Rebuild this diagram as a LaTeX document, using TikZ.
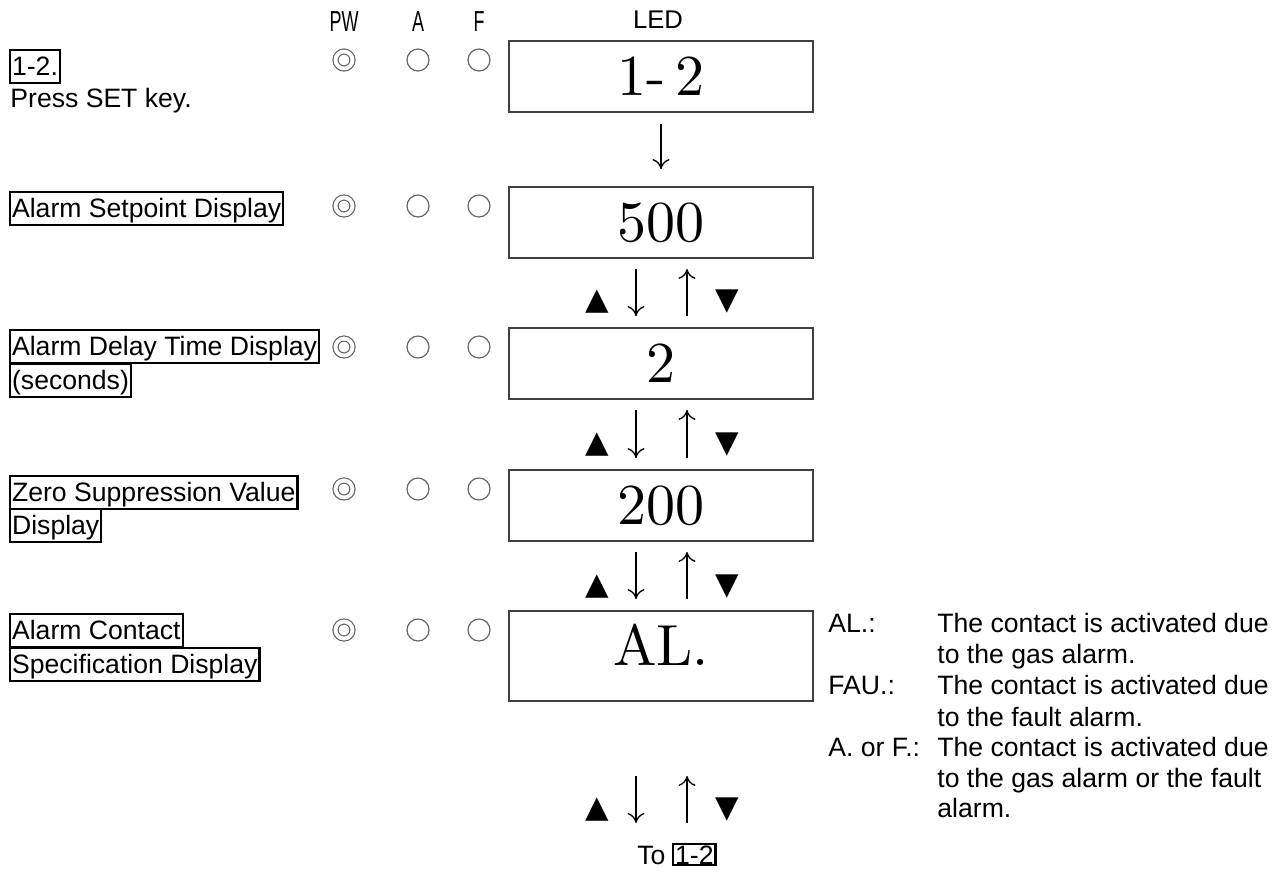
\documentclass[tikz,border=0pt]{standalone}
\usepackage{fontspec}
\setsansfont{Liberation Sans}
\newfontfamily\symfont{DejaVu Sans}
\newfontfamily\ledfont{lmroman10-regular}[Extension=.otf]
\usetikzlibrary{arrows.meta}
\tikzset{
  lbl/.style={draw,line width=1.1pt,anchor=base west,inner xsep=1pt,inner ysep=0pt,text height=12.5pt,text depth=4pt},
  txt/.style={anchor=base west,inner sep=0pt},
  ledbox/.style={draw=black!75,line width=0.9pt,minimum width=152pt,minimum height=35.5pt,inner sep=0pt,font=\ledfont\fontsize{29}{30}\selectfont},
  lamp/.style={circle,draw=black!60,line width=0.6pt,minimum size=11pt,inner sep=0pt},
  pwlamp/.style={circle,draw=black!60,line width=0.6pt,double,double distance=1.9pt,minimum size=8.5pt,inner sep=0pt},
  head/.style={font=\sffamily\fontsize{14.5}{14}\selectfont},
  arr/.style={line width=0.65pt,-{To[length=5pt,width=8.5pt]}},
  tri/.style={font=\symfont\fontsize{15.3}{16}\selectfont,inner sep=0pt},
}
\begin{document}
\begin{tikzpicture}[x=0.5pt,y=-0.5pt,font=\sffamily\fontsize{13.3}{15.4}\selectfont]
  \useasboundingbox (0,0) rectangle (1283,880);
  % heads
  \node[head] (hpw) at (344,22) {\scalebox{0.62}[1]{PW}};
  \node[head] (ha) at (418,22) {\scalebox{0.62}[1]{A}};
  \node[head] (hf) at (479,22) {\scalebox{0.62}[1]{F}};
  \node[font=\sffamily\fontsize{12.8}{13}\selectfont] (hled) at (658,20) {LED};
  % lamps
  \foreach \r/\y in {1/60,2/206,3/347,4/489,5/630} {
    \node[pwlamp] (pw\r) at (344,\y) {};
    \node[lamp] (a\r) at (418,\y) {};
    \node[lamp] (f\r) at (479,\y) {};
  }
  % LED displays
  \node[ledbox] (led1) at (661,76.5) {1-\,2};
  \node[ledbox] (led2) at (661,222.5) {500};
  \node[ledbox] (led3) at (661,363.5) {2};
  \node[ledbox] (led4) at (661,505.5) {200};
  \node[ledbox,minimum height=45pt] (led5) at (661,656) {};
  \node[font=\ledfont\fontsize{29}{30}\selectfont,inner sep=0pt] (al) at (661,645) {AL.};
  % labels
  \node[lbl] (l1) at (9,75) {1-2.};
  \node[txt] (l1b) at (10,107) {Press SET key.};
  \node[lbl] (l2) at (9,217) {Alarm Setpoint Display};
  \node[lbl] (l3a) at (9,355) {Alarm Delay Time Display\ };
  \node[lbl] (l3b) at (9,389) {(seconds)};
  \node[lbl] (l4a) at (9,501) {Zero Suppression Value\ };
  \node[lbl] (l4b) at (9,534) {Display};
  \node[lbl] (l5a) at (9,639) {Alarm Contact\ };
  \node[lbl] (l5b) at (9,673) {Specification Display};
  % arrows
  \draw[arr,shorten <=5.5pt,shorten >=8.5pt] (led1.south) -- (led2.north);
  \draw[arr,shorten <=5pt,shorten >=5.5pt] ([xshift=-12.5pt]led2.south) -- ([xshift=-12.5pt]led3.north);
  \draw[arr,shorten <=5.5pt,shorten >=5pt] ([xshift=13pt]led3.north) -- ([xshift=13pt]led2.south);
  \draw[arr,shorten <=5pt,shorten >=5.5pt] ([xshift=-12.5pt]led3.south) -- ([xshift=-12.5pt]led4.north);
  \draw[arr,shorten <=5.5pt,shorten >=5pt] ([xshift=13pt]led4.north) -- ([xshift=13pt]led3.south);
  \draw[arr,shorten <=5pt,shorten >=5.5pt] ([xshift=-12.5pt]led4.south) -- ([xshift=-12.5pt]led5.north);
  \draw[arr,shorten <=5.5pt,shorten >=5pt] ([xshift=13pt]led5.north) -- ([xshift=13pt]led4.south);
  \coordinate (back) at (661,823);
  \draw[arr,shorten <=37pt] ([xshift=-12.5pt]led5.south) -- ([xshift=-12.5pt]back);
  \draw[arr,shorten >=37pt] ([xshift=13pt]back) -- ([xshift=13pt]led5.south);
  % keys
  \node[tri] (up2) at (597,302) {▲};   \node[tri] (dn2) at (727,302) {▼};
  \node[tri] (up3) at (597,445) {▲};   \node[tri] (dn3) at (727,445) {▼};
  \node[tri] (up4) at (597,587) {▲};   \node[tri] (dn4) at (727,587) {▼};
  \node[tri] (up5) at (597,810) {▲};   \node[tri] (dn5) at (727,810) {▼};
  \node[txt] (tolbl) at (637,864) {To};
  \node[draw,line width=1.1pt,anchor=base west,inner xsep=1pt,inner ysep=0.5pt,text height=9.5pt,text depth=0pt] (toref) at (672,864) {1-2};
  % contact legend
  \node[txt] (kal) at (828,632) {AL.:};
  \node[txt] (dal1) at (937,632) {The contact is activated due};
  \node[txt] (dal2) at (937,663) {to the gas alarm.};
  \node[txt] (kfau) at (828,694) {FAU.:};
  \node[txt] (dfau1) at (937,694) {The contact is activated due};
  \node[txt] (dfau2) at (937,726) {to the fault alarm.};
  \node[txt] (kaf) at (828,756) {A. or F.:};
  \node[txt] (daf1) at (937,756) {The contact is activated due};
  \node[txt] (daf2) at (937,787) {to the gas alarm or the fault};
  \node[txt] (daf3) at (937,817) {alarm.};
\end{tikzpicture}
\end{document}
